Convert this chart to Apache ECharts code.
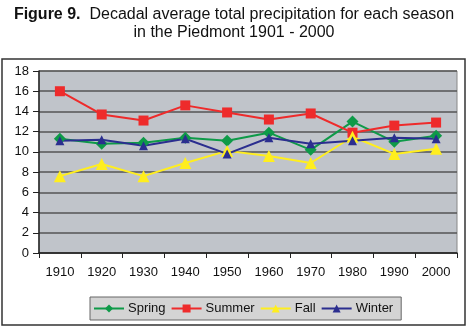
<!DOCTYPE html>
<html><head><meta charset="utf-8">
<script src="https://cdn.jsdelivr.net/npm/echarts@6/dist/echarts.min.js"></script>
<style>html,body{margin:0;padding:0;background:#fff}#c{width:468px;height:327px}</style>
</head><body><div id="c"></div>
<script>
const categories = ['1910','1920','1930','1940','1950','1960','1970','1980','1990','2000'];
const spring = [11.3, 10.8, 10.9, 11.4, 11.1, 11.9, 10.2, 13.0, 11.0, 11.6];
const summer = [16.0, 13.7, 13.1, 14.6, 13.9, 13.2, 13.8, 11.9, 12.6, 12.9];
const fall   = [7.6, 8.8, 7.6, 8.9, 10.1, 9.6, 8.9, 11.5, 9.8, 10.3];
const winter = [11.1, 11.2, 10.6, 11.3, 9.8, 11.4, 10.8, 11.1, 11.4, 11.3];
const yTicks = {min: 0, max: 18, interval: 2};

const font = 'Arial, "Liberation Sans", sans-serif';
const chart = echarts.init(document.getElementById('c'), null, {renderer: 'canvas'});
function s(name, data, color, symbol, size) {
  return {name, type: 'line', data, symbol, symbolSize: size,
    lineStyle: {color, width: 2}, itemStyle: {color}, color, z: 3};
}
chart.setOption({
  animation: false,
  title: {
    text: '{b|Figure 9.}  Decadal average total precipitation for each season\nin the Piedmont 1901 - 2000',
    left: 'center', top: 1,
    textStyle: {fontFamily: font, fontSize: 16, fontWeight: 'normal', color: '#111', lineHeight: 18,
      rich: {b: {fontFamily: font, fontSize: 16, fontWeight: 'bold', color: '#111', lineHeight: 18}}}
  },
  graphic: [{type: 'rect', shape: {x: 2, y: 59, width: 463, height: 266},
    style: {fill: 'none', stroke: '#333', lineWidth: 1.5}, z: -1}],
  grid: {left: 39, right: 11, top: 71, bottom: 74, show: true, backgroundColor: '#C0C4CA',
    borderColor: '#888', borderWidth: 1},
  xAxis: {type: 'category', data: categories, boundaryGap: true,
    axisLine: {lineStyle: {color: '#222', width: 1.5}},
    axisTick: {show: true, length: 5, lineStyle: {color: '#222'}},
    axisLabel: {fontFamily: font, fontSize: 13, color: '#111', margin: 13}},
  yAxis: {type: 'value', min: yTicks.min, max: yTicks.max, interval: yTicks.interval,
    axisLine: {show: true, lineStyle: {color: '#222', width: 1.5}},
    axisTick: {show: true, length: 6, lineStyle: {color: '#222'}},
    splitLine: {lineStyle: {color: '#555', width: 1.5}},
    axisLabel: {fontFamily: font, fontSize: 13, color: '#111', margin: 10}},
  legend: {left: 90, top: 297, itemWidth: 30, itemHeight: 10, itemGap: 5,
    backgroundColor: '#D4D4D4', borderColor: '#666', borderWidth: 1, borderRadius: 0,
    padding: [5, 8, 5, 3],
    textStyle: {fontFamily: font, fontSize: 13, color: '#111', padding: [0, 0, 0, -1]},
    data: ['Spring', 'Summer', 'Fall', 'Winter']},
  series: [
    s('Spring', spring, '#0E9A48', 'diamond', 12),
    s('Summer', summer, '#EE2B2B', 'rect', 10),
    s('Fall', fall, '#FFEE1E', 'triangle', 12),
    s('Winter', winter, '#2B2E8F', 'triangle', 9)
  ]
});
</script></body></html>
